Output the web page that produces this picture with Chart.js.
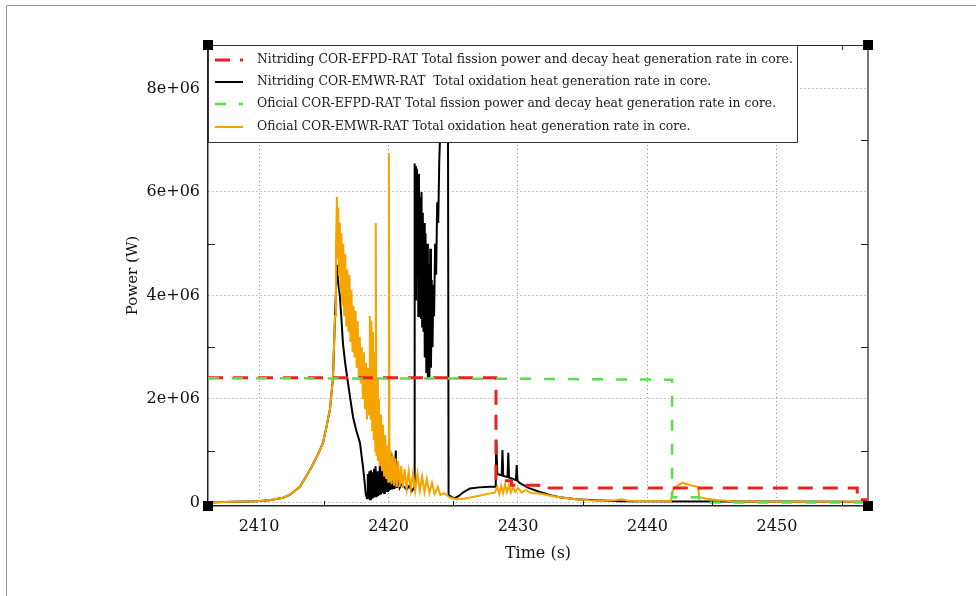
<!DOCTYPE html>
<html>
<head>
<meta charset="utf-8">
<script src="https://cdn.jsdelivr.net/npm/chart.js@4.4.1/dist/chart.umd.min.js"></script>
<style>
html, body { margin: 0; padding: 0; background: #fff; }
</style>
</head>
<body>
<canvas id="PowerChart" width="976" height="596"></canvas>
<script>
// axis ranges (s, W)
var xMin = 2406.06, xMax = 2457.03;
var yMin = -0.07e6, yMax = 8.84e6;
var xTickValues = [2410, 2420, 2430, 2440, 2450];
var yTickValues = [0, 2e6, 4e6, 6e6, 8e6];
var yTickLabels = ['0', '2e+06', '4e+06', '6e+06', '8e+06'];

var seriesLabels = [
    "Nitriding COR-EFPD-RAT Total fission power and decay heat generation rate in core.",
    "Nitriding COR-EMWR-RAT  Total oxidation heat generation rate in core.",
    "Oficial COR-EFPD-RAT Total fission power and decay heat generation rate in core.",
    "Oficial COR-EMWR-RAT Total oxidation heat generation rate in core."
];

// power values are in MW, converted to W when the datasets are built
var redTime  = [2406.06, 2428.30, 2428.30, 2429.50, 2429.50, 2431.60, 2431.60, 2456.20, 2456.20, 2457.03];
var redPower = [2.41, 2.41, 0.42, 0.42, 0.33, 0.33, 0.28, 0.28, 0.05, 0.05];

var greenTime  = [2406.06, 2430.00, 2441.90, 2441.90, 2444.00, 2444.00, 2457.03];
var greenPower = [2.40, 2.39, 2.37, 0.10, 0.10, 0.00, 0.00];

var blackTime = [
    2406.06, 2408.0, 2409.8, 2410.8, 2411.85, 2412.4, 2413.16, 2413.94, 2414.5, 2414.94,
    2415.2, 2415.48, 2415.71, 2415.79, 2415.90, 2416.02, 2416.10, 2416.25, 2416.40, 2416.48,
    2416.65, 2416.87, 2417.05, 2417.26, 2417.50, 2417.80, 2417.92, 2418.03, 2418.15, 2418.25,
    2418.34, 2418.40, 2418.46, 2418.52, 2418.58, 2418.64, 2418.70, 2418.76, 2418.82, 2418.88,
    2418.94, 2419.00, 2419.06, 2419.12, 2419.18, 2419.24, 2419.30, 2419.36, 2419.42, 2419.48,
    2419.54, 2419.60, 2419.66, 2419.72, 2419.78, 2419.84, 2419.90, 2419.96, 2420.02, 2420.08,
    2420.14, 2420.22, 2420.30, 2420.38, 2420.46, 2420.56, 2420.64, 2420.74, 2420.86, 2421.00,
    2421.20, 2421.40, 2421.60, 2421.80, 2421.97,
    2422.00, 2422.04, 2422.08, 2422.12, 2422.16, 2422.20, 2422.25, 2422.30, 2422.35, 2422.40,
    2422.45, 2422.50, 2422.55, 2422.60, 2422.65, 2422.70, 2422.75, 2422.80, 2422.86, 2422.92,
    2422.98, 2423.04, 2423.10, 2423.16, 2423.22, 2423.28, 2423.34, 2423.40, 2423.46, 2423.52,
    2423.60, 2423.68, 2423.76, 2423.84, 2423.92, 2424.00, 2424.10, 2424.20, 2424.58, 2424.64,
    2424.90, 2425.10, 2425.40, 2425.80, 2426.30, 2427.00, 2427.80, 2428.28, 2428.32, 2428.40,
    2428.74, 2428.80, 2428.86, 2429.19, 2429.25, 2429.31, 2429.84, 2429.90, 2429.96, 2430.15,
    2430.80, 2431.70, 2432.50, 2433.24, 2434.50, 2436.00, 2437.87, 2457.03
];
var blackPower = [
    0.00, 0.01, 0.02, 0.04, 0.09, 0.15, 0.30, 0.63, 0.90, 1.15,
    1.45, 1.80, 2.40, 3.00, 3.80, 4.59, 4.30, 3.97, 3.40, 3.08,
    2.70, 2.31, 2.00, 1.65, 1.40, 1.15, 0.90, 0.69, 0.40, 0.15,
    0.08, 0.55, 0.07, 0.60, 0.06, 0.62, 0.07, 0.58, 0.08, 0.65,
    0.10, 0.70, 0.10, 0.60, 0.12, 0.55, 0.14, 1.30, 0.15, 1.50,
    0.18, 0.60, 0.18, 0.55, 0.20, 0.50, 0.22, 0.55, 0.22, 0.60,
    0.24, 0.95, 0.25, 0.70, 0.26, 1.00, 0.28, 0.50, 0.28, 0.35,
    0.30, 0.25, 0.32, 0.22, 0.28,
    6.55, 4.60, 6.50, 3.90, 6.45, 4.40, 6.20, 3.60, 6.35, 4.00,
    5.90, 3.55, 6.00, 3.40, 5.60, 3.30, 5.40, 2.80, 5.20, 2.50,
    5.00, 2.40, 4.60, 2.42, 4.90, 2.60, 4.30, 3.00, 4.20, 3.60,
    5.00, 4.40, 5.80, 5.40, 6.60, 7.20, 8.40, 9.60, 9.60, 0.14,
    0.10, 0.08, 0.12, 0.20, 0.27, 0.29, 0.30, 0.30, 1.21, 0.55,
    0.52, 1.01, 0.51, 0.49, 0.96, 0.48, 0.43, 0.72, 0.42, 0.37,
    0.28, 0.20, 0.14, 0.10, 0.06, 0.04, 0.02, 0.01
];

var orangeTime = [
    2406.06, 2408.0, 2409.8, 2410.8, 2411.85, 2412.4, 2413.16, 2413.94, 2414.5, 2414.94,
    2415.2, 2415.48, 2415.71, 2415.79, 2415.87, 2415.94, 2416.02, 2416.08, 2416.12, 2416.18,
    2416.24, 2416.30, 2416.36, 2416.42, 2416.50, 2416.58, 2416.66, 2416.74, 2416.82, 2416.90,
    2416.98, 2417.06, 2417.14, 2417.22, 2417.30, 2417.38, 2417.46, 2417.54, 2417.62, 2417.70,
    2417.78, 2417.86, 2417.94, 2418.02, 2418.10, 2418.18, 2418.26, 2418.34, 2418.42, 2418.50,
    2418.56, 2418.62, 2418.68, 2418.74, 2418.80, 2418.86, 2418.92, 2418.98, 2419.02, 2419.06,
    2419.12, 2419.18, 2419.26, 2419.34, 2419.42, 2419.50, 2419.58, 2419.66, 2419.74, 2419.82,
    2419.92, 2419.98, 2420.03, 2420.08, 2420.16, 2420.24, 2420.34, 2420.44, 2420.54, 2420.64,
    2420.74, 2420.86, 2420.98, 2421.10, 2421.24, 2421.40, 2421.56, 2421.72, 2421.90, 2422.06,
    2422.24, 2422.42, 2422.60, 2422.78, 2422.96, 2423.16, 2423.36, 2423.56, 2423.80, 2424.00,
    2424.30, 2424.70, 2425.20, 2425.80, 2426.40, 2427.00, 2427.60, 2428.20, 2428.40, 2428.55,
    2428.70, 2428.85, 2429.00, 2429.15, 2429.30, 2429.45, 2429.60, 2429.80, 2430.00, 2430.30,
    2430.60, 2431.00, 2431.70, 2432.50, 2433.50, 2434.50, 2435.50, 2436.50, 2437.50, 2438.00,
    2438.50, 2440.00, 2441.80, 2441.95, 2442.20, 2442.70, 2443.30, 2443.90, 2444.00, 2444.60,
    2445.50, 2446.50, 2450.00, 2457.03
];
var orangePower = [
    0.00, 0.01, 0.02, 0.04, 0.09, 0.15, 0.30, 0.63, 0.90, 1.15,
    1.45, 1.80, 2.40, 3.00, 3.60, 4.90, 5.90, 4.70, 5.70, 4.40,
    5.40, 4.10, 5.20, 3.80, 5.00, 3.60, 4.80, 3.40, 4.50, 3.30,
    4.40, 3.10, 4.10, 2.90, 3.80, 2.80, 3.70, 2.60, 3.50, 2.40,
    3.20, 2.30, 3.00, 2.00, 2.90, 1.80, 2.70, 1.60, 2.60, 1.70,
    3.60, 1.60, 3.50, 1.40, 3.30, 1.20, 2.90, 1.00, 5.40, 0.90,
    2.40, 0.80, 2.00, 0.70, 1.70, 0.60, 1.50, 0.50, 1.30, 0.45,
    1.10, 0.40, 6.75, 0.40, 1.00, 0.35, 0.90, 0.32, 0.85, 0.30,
    0.80, 0.30, 0.70, 0.28, 0.65, 0.26, 0.60, 0.25, 0.58, 0.22,
    0.55, 0.22, 0.50, 0.20, 0.45, 0.18, 0.38, 0.16, 0.30, 0.14,
    0.18, 0.10, 0.06, 0.07, 0.10, 0.13, 0.16, 0.19, 0.30, 0.16,
    0.32, 0.18, 0.35, 0.20, 0.33, 0.19, 0.30, 0.20, 0.28, 0.19,
    0.24, 0.18, 0.17, 0.13, 0.09, 0.06, 0.04, 0.03, 0.04, 0.06,
    0.03, 0.02, 0.02, 0.22, 0.30, 0.38, 0.33, 0.30, 0.10, 0.07,
    0.04, 0.02, 0.01, 0.01
];

function toPoints(times, powers) {
    var pts = [];
    for (var i = 0; i < times.length; ++i) {
        pts.push({x: times[i], y: powers[i] * 1e6});
    }
    return pts;
}

var serif = "'DejaVu Serif', serif";

// legend box, inward minor ticks, frame and corner squares
var plotDecor = {
    id: 'plotDecor',
    afterDraw: function (chart) {
        var ctx = chart.ctx;
        var a = chart.chartArea;
        var xs = chart.scales.x, ys = chart.scales.y;
        ctx.save();

        // outer picture frame
        ctx.strokeStyle = '#9a9a9a';
        ctx.lineWidth = 1;
        ctx.beginPath();
        ctx.moveTo(6.5, 596);
        ctx.lineTo(6.5, 5.5);
        ctx.lineTo(976, 5.5);
        ctx.stroke();

        // top and right border
        ctx.strokeStyle = '#222';
        ctx.beginPath();
        ctx.moveTo(a.left, a.top + 0.5);
        ctx.lineTo(a.right, a.top + 0.5);
        ctx.stroke();
        ctx.strokeStyle = '#777';
        ctx.lineWidth = 2;
        ctx.beginPath();
        ctx.moveTo(a.right, a.top);
        ctx.lineTo(a.right, a.bottom);
        ctx.stroke();

        // minor ticks pointing inside
        ctx.strokeStyle = '#222';
        ctx.lineWidth = 1;
        for (var t = 2415; t < xMax; t += 10) {
            var px = Math.round(xs.getPixelForValue(t)) + 0.5;
            ctx.beginPath();
            ctx.moveTo(px, a.bottom); ctx.lineTo(px, a.bottom - 5);
            ctx.moveTo(px, a.top); ctx.lineTo(px, a.top + 5);
            ctx.stroke();
        }
        for (var v = 1e6; v < yMax; v += 2e6) {
            var py = Math.round(ys.getPixelForValue(v)) + 0.5;
            ctx.beginPath();
            ctx.moveTo(a.left, py); ctx.lineTo(a.left + 7, py);
            ctx.moveTo(a.right, py); ctx.lineTo(a.right - 7, py);
            ctx.stroke();
        }

        // legend
        var boxRight = 797, boxBottom = a.top + 97;
        ctx.fillStyle = '#fff';
        ctx.fillRect(a.left, a.top, boxRight - a.left, boxBottom - a.top);
        ctx.strokeStyle = '#333';
        ctx.lineWidth = 1;
        ctx.strokeRect(a.left + 0.5, a.top + 0.5, boxRight - a.left, boxBottom - a.top);
        var rows = [15, 37, 59, 82];
        ctx.font = "12.4px " + serif;
        ctx.textBaseline = 'middle';
        ctx.textAlign = 'left';
        for (var i = 0; i < seriesLabels.length; ++i) {
            var ds = chart.data.datasets.filter(function (d) { return d.label === seriesLabels[i]; })[0];
            var ry = a.top + rows[i];
            ctx.save();
            ctx.strokeStyle = ds.borderColor;
            ctx.lineWidth = ds.borderWidth;
            ctx.setLineDash(ds.borderDash || []);
            ctx.beginPath();
            ctx.moveTo(a.left + 7, ry);
            ctx.lineTo(a.left + 35, ry);
            ctx.stroke();
            ctx.restore();
            ctx.fillStyle = '#1a1a1a';
            ctx.fillText(seriesLabels[i], a.left + 49, ry);
        }

        // corner squares
        ctx.fillStyle = '#000';
        var corners = [[a.left, a.top], [a.right, a.top], [a.left, a.bottom], [a.right, a.bottom]];
        corners.forEach(function (c) {
            ctx.fillRect(c[0] - 5, c[1] - 5, 10, 10);
        });
        ctx.restore();
    }
};

document.addEventListener('DOMContentLoaded', function () {
    var canvas = document.getElementById('PowerChart');

    new Chart(canvas, {
        type: 'line',
        data: {
            datasets: [
                {
                    label: seriesLabels[0],
                    data: toPoints(redTime, redPower),
                    borderColor: '#e8221e',
                    borderWidth: 3,
                    borderDash: [15, 10],
                    order: 1
                },
                {
                    label: seriesLabels[1],
                    data: toPoints(blackTime, blackPower),
                    borderColor: '#000000',
                    borderWidth: 2,
                    order: 3
                },
                {
                    label: seriesLabels[2],
                    data: toPoints(greenTime, greenPower),
                    borderColor: '#55e04c',
                    borderWidth: 2.5,
                    borderDash: [11, 13],
                    order: 0
                },
                {
                    label: seriesLabels[3],
                    data: toPoints(orangeTime, orangePower),
                    borderColor: '#f5a400',
                    borderWidth: 2,
                    order: 2
                }
            ]
        },
        options: {
            responsive: false,
            animation: false,
            events: [],
            elements: {
                point: { radius: 0 },
                line: { tension: 0, fill: false }
            },
            layout: {
                padding: { left: 0, top: 45, right: 108, bottom: 0 }
            },
            scales: {
                x: {
                    type: 'linear',
                    min: xMin,
                    max: xMax,
                    afterFit: function (scale) { scale.height = 90; },
                    afterBuildTicks: function (scale) {
                        scale.ticks = xTickValues.map(function (v) { return {value: v}; });
                    },
                    ticks: {
                        padding: 11,
                        maxRotation: 0,
                        autoSkip: false,
                        color: '#111',
                        font: { family: serif, size: 16 },
                        callback: function (value) { return String(value); }
                    },
                    grid: { color: '#8c8c8c', lineWidth: 1, drawTicks: false },
                    border: { display: true, color: '#222', width: 1.5, dash: [1, 3] },
                    title: {
                        display: true,
                        text: 'Time (s)',
                        color: '#111',
                        font: { family: serif, size: 16 },
                        padding: { top: 0, bottom: 33 }
                    }
                },
                y: {
                    type: 'linear',
                    min: yMin,
                    max: yMax,
                    afterFit: function (scale) { scale.width = 208; },
                    afterBuildTicks: function (scale) {
                        scale.ticks = yTickValues.map(function (v) { return {value: v}; });
                    },
                    ticks: {
                        padding: 8,
                        autoSkip: false,
                        color: '#111',
                        font: { family: serif, size: 16 },
                        callback: function (value) {
                            var k = yTickValues.indexOf(value);
                            return k >= 0 ? yTickLabels[k] : '';
                        }
                    },
                    grid: { color: '#8c8c8c', lineWidth: 1, drawTicks: false },
                    border: { display: true, color: '#222', width: 1.5, dash: [1, 3] },
                    title: {
                        display: true,
                        text: 'Power (W)',
                        color: '#111',
                        font: { family: serif, size: 15 },
                        padding: { top: 124, bottom: 0 }
                    }
                }
            },
            plugins: {
                legend: { display: false },
                tooltip: { enabled: false }
            }
        },
        plugins: [plotDecor]
    });
});
</script>
</body>
</html>
